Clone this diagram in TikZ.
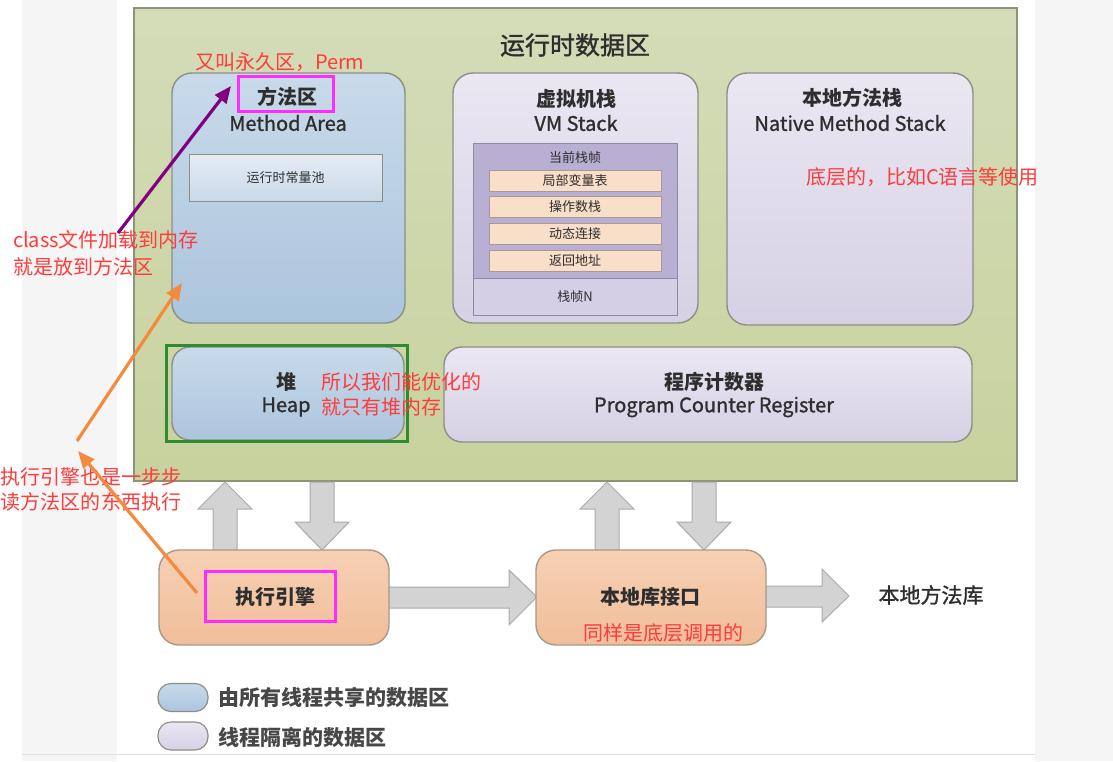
\documentclass[tikz,border=0pt]{standalone}
\usepackage{fontspec}
\setmainfont{Noto Sans CJK SC}
\newfontfamily\semib{Noto Sans CJK SC}[FakeBold=1.2]
\usetikzlibrary{arrows.meta}
\definecolor{bgstrip}{HTML}{F5F5F5}
\definecolor{greenTop}{HTML}{D4DCB8}
\definecolor{greenBot}{HTML}{C7D29E}
\definecolor{greenLine}{HTML}{8C9478}
\definecolor{blueTop}{HTML}{C8DAEA}
\definecolor{blueBot}{HTML}{ABC5DD}
\definecolor{lavTop}{HTML}{EAE7F2}
\definecolor{lavBot}{HTML}{D6D0E4}
\definecolor{boxLine}{HTML}{8E8E86}
\definecolor{orTop}{HTML}{F7D0B4}
\definecolor{orBot}{HTML}{F0BE9A}
\definecolor{orLine}{HTML}{A89886}
\definecolor{arrFill}{HTML}{D3D3D3}
\definecolor{arrLine}{HTML}{ABABAB}
\definecolor{frameTop}{HTML}{B9AFD3}
\definecolor{frameBot}{HTML}{D5CFE5}
\definecolor{frameLine}{HTML}{8F88A8}
\definecolor{entry}{HTML}{F9DEC8}
\definecolor{entryLine}{HTML}{A8989A}
\definecolor{poolTop}{HTML}{E4ECF4}
\definecolor{poolBot}{HTML}{C9D9E9}
\definecolor{ink}{HTML}{2E2E2E}
\definecolor{note}{HTML}{FF3B3B}
\definecolor{mag}{HTML}{FF2BFF}
\definecolor{hl}{HTML}{2E8B2E}
\definecolor{purp}{HTML}{800080}
\definecolor{orng}{HTML}{F5893C}
\begin{document}
\begin{tikzpicture}[x=1pt,y=-1pt,
  every node/.style={inner sep=0pt, outer sep=0pt},
  bigbox/.style={draw=boxLine, line width=1.4pt, rounded corners=20pt},
  shared/.style={bigbox, top color=blueTop, bottom color=blueBot},
  private/.style={bigbox, top color=lavTop, bottom color=lavBot},
  engine/.style={draw=orLine, line width=1.4pt, rounded corners=20pt, top color=orTop, bottom color=orBot},
  blockarrow/.style={draw=arrLine, fill=arrFill, line width=1pt},
  entrybox/.style={draw=entryLine, line width=0.8pt, fill=entry, minimum width=172pt, minimum height=21pt, font=\fontsize{13}{15}\selectfont, text=ink},
  lab/.style={text=ink, font=\semib\fontsize{20}{24}\selectfont},
  labb/.style={text=ink, font=\fontsize{20}{24}\selectfont\bfseries},
  small/.style={text=ink, font=\fontsize{13}{15}\selectfont},
  notetext/.style={text=note, font=\fontsize{20}{24}\selectfont, anchor=west},
  magbox/.style={draw=mag, line width=3.4pt},
  pill/.style={draw=boxLine, line width=1.2pt, rounded corners=13pt, minimum width=50pt, minimum height=28pt}
]
\useasboundingbox (0,0) rectangle (1113,761);
\fill[white] (0,0) rectangle (1113,761);
\fill[bgstrip] (22,0) rectangle (117,761);
\fill[bgstrip] (1035,0) rectangle (1113,761);
\draw[black!12, line width=1pt] (22,754.5) -- (1035,754.5);

% runtime data area
\node[draw=greenLine, line width=1.4pt, top color=greenTop, bottom color=greenBot, minimum width=883pt, minimum height=473pt] (rt) at (575.5,244.5) {};
\node[text=ink, font=\semib\fontsize{25}{28}\selectfont] (title) at (575,45) {运行时数据区};

% method area
\node[shared, minimum width=233pt, minimum height=250pt] (ma) at (288.5,198) {};
\node[labb] (maCN) at (287,97) {方法区};
\node[lab] (maEN) at (288,123) {Method Area};
\node[draw=boxLine, line width=1pt, top color=poolTop, bottom color=poolBot, minimum width=193pt, minimum height=47pt] (pool) at (285.5,178) {};
\node[small] (poolT) at (285.5,178) {运行时常量池};

% VM stack
\node[private, minimum width=245pt, minimum height=250pt] (vm) at (575.5,198) {};
\node[labb] (vmCN) at (576,99) {虚拟机栈};
\node[lab] (vmEN) at (576,123) {VM Stack};
\node[draw=frameLine, line width=1pt, fill=frameTop, minimum width=204pt, minimum height=135pt] (cur) at (575,210.5) {};
\node[draw=frameLine, line width=1pt, fill=frameBot, minimum width=204pt, minimum height=37pt] (frN) at (575,296.5) {};
\node[small] (curT) at (575,158) {当前栈帧};
\node[entrybox] (e1) at (575,180.5) {局部变量表};
\node[entrybox] (e2) at (575,207) {操作数栈};
\node[entrybox] (e3) at (575,234) {动态连接};
\node[entrybox] (e4) at (575,261) {返回地址};
\node[small] (frNT) at (575,297) {栈帧N};

% native method stack
\node[private, minimum width=246pt, minimum height=252pt] (nm) at (850,199) {};
\node[labb] (nmCN) at (852,98) {本地方法栈};
\node[lab] (nmEN) at (850,123) {Native Method Stack};

% heap and PC
\node[shared, rounded corners=18pt, minimum width=232pt, minimum height=93pt] (heap) at (288,393.5) {};
\node[labb] (heapCN) at (286,382) {堆};
\node[lab] (heapEN) at (286,407) {Heap};
\node[private, rounded corners=18pt, minimum width=528pt, minimum height=95pt] (pc) at (708,394.5) {};
\node[labb] (pcCN) at (714,382) {程序计数器};
\node[lab] (pcEN) at (714,407) {Program Counter Register};

% block arrows
\draw[blockarrow] (213,550) -- (213,509) -- (198,509) -- (225,482) -- (252,509) -- (237,509) -- (237,550) -- cycle;
\draw[blockarrow] (310,482) -- (310,522) -- (295,522) -- (322,550) -- (349,522) -- (334,522) -- (334,482) -- cycle;
\draw[blockarrow] (595,550) -- (595,509) -- (580,509) -- (607,482) -- (634,509) -- (619,509) -- (619,550) -- cycle;
\draw[blockarrow] (692,482) -- (692,522) -- (677,522) -- (704,550) -- (731,522) -- (716,522) -- (716,482) -- cycle;
\draw[blockarrow] (388,587) -- (509,587) -- (509,570) -- (537,597) -- (509,625) -- (509,608) -- (388,608) -- cycle;
\draw[blockarrow] (765,586) -- (822,586) -- (822,569) -- (849,596) -- (822,622) -- (822,607) -- (765,607) -- cycle;

% execution engine, native interface
\node[engine, minimum width=230pt, minimum height=95pt] (ee) at (274,597.5) {};
\node[labb] (eeT) at (275,597) {执行引擎};
\node[engine, minimum width=230pt, minimum height=95pt] (ni) at (651,597.5) {};
\node[labb] (niT) at (650,597) {本地库接口};
\node[text=ink, font=\semib\fontsize{21}{24}\selectfont] (lib) at (931,595) {本地方法库};

% legend
\node[pill, top color=blueTop, bottom color=blueBot] (lg1) at (183,697.5) {};
\node[pill, top color=lavTop, bottom color=lavBot] (lg2) at (183,736) {};
\node[labb, text=black!72, font=\fontsize{21}{24}\selectfont\bfseries, anchor=west] (lg1T) at (218,698) {由所有线程共享的数据区};
\node[labb, text=black!72, font=\fontsize{21}{24}\selectfont\bfseries, anchor=west] (lg2T) at (218,737) {线程隔离的数据区};

% highlight boxes
\node[magbox, minimum width=95pt, minimum height=35pt] (hlMA) at (286,94) {};
\node[magbox, minimum width=130pt, minimum height=50pt] (hlEE) at (270.5,596.5) {};
\node[draw=hl, line width=3pt, minimum width=241pt, minimum height=96pt] (hlHeap) at (287,393.5) {};

% notes
\node[notetext] (n1) at (195,62) {又叫永久区，Perm};
\node[notetext] (n2) at (13,240) {class文件加载到内存};
\node[notetext] (n3) at (13,267) {就是放到方法区};
\node[notetext] (n4) at (1,477) {执行引擎也是一步步};
\node[notetext] (n5) at (1,502) {读方法区的东西执行};
\node[notetext] (n6) at (321,382) {所以我们能优化的};
\node[notetext] (n7) at (321,407) {就只有堆内存};
\node[notetext] (n8) at (806,177) {底层的，比如C语言等使用};
\node[notetext] (n9) at (583,633) {同样是底层调用的};

% annotation arrows
\coordinate (pA) at (118,233);
\coordinate (pB) at (231,86);
\draw[purp, line width=3.2pt, -{Triangle[length=17pt,width=14pt]}] (pA) -- (pB);
\coordinate (oA) at (77,441);
\coordinate (oB) at (182,283);
\draw[orng, line width=3.2pt, -{Triangle[length=17pt,width=14pt]}] (oA) -- (oB);
\coordinate (oC) at (197,593);
\coordinate (oD) at (78,451);
\draw[orng, line width=3.2pt, -{Triangle[length=17pt,width=14pt]}] (oC) -- (oD);
\end{tikzpicture}
\end{document}
